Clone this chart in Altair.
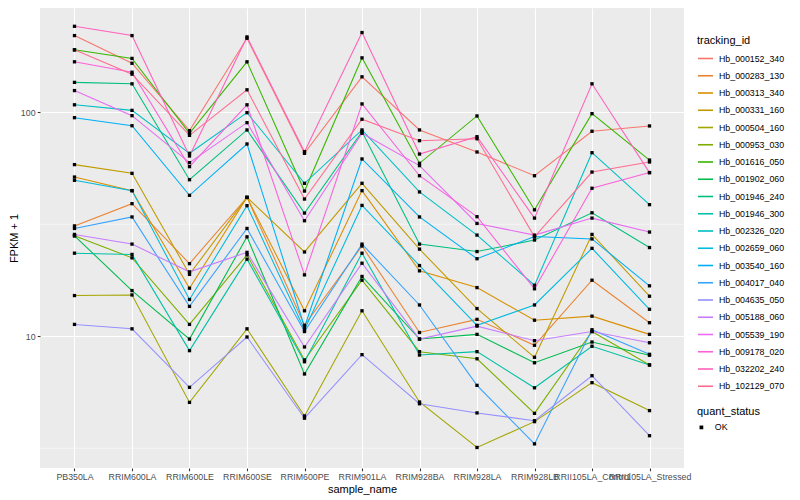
import altair as alt
import pandas as pd

samples = ["PB350LA", "RRIM600LA", "RRIM600LE", "RRIM600SE", "RRIM600PE", "RRIM901LA",
           "RRIM928BA", "RRIM928LA", "RRIM928LB", "RRII105LA_Control", "RRII105LA_Stressed"]

tracking_ids = ["Hb_000152_340", "Hb_000283_130", "Hb_000313_340", "Hb_000331_160",
                "Hb_000504_160", "Hb_000953_030", "Hb_001616_050", "Hb_001902_060",
                "Hb_001946_240", "Hb_001946_300", "Hb_002326_020", "Hb_002659_060",
                "Hb_003540_160", "Hb_004017_040", "Hb_004635_050", "Hb_005188_060",
                "Hb_005539_190", "Hb_009178_020", "Hb_032202_240", "Hb_102129_070"]

colors = ["#F8766D", "#EA8331", "#D89000", "#C09B00", "#A3A500", "#7CAE00", "#39B600",
          "#00BB4E", "#00BF7D", "#00C1A3", "#00BFC4", "#00BAE0", "#00B0F6", "#35A2FF",
          "#9590FF", "#C77CFF", "#E76BF3", "#FA62DB", "#FF62BC", "#FF6C91"]

# FPKM + 1 per sample (same order as samples)
hb_000152_340 = [220, 165.5, 82.8, 214, 65.6, 144, 83.4, 66.5, 52.1, 82.3, 86.9]
hb_000283_130 = [31.1, 39.1, 21.1, 41.7, 11.2, 25.3, 10.4, 11.9, 9.12, 17.8, 11.5]
hb_000313_340 = [51.4, 44.7, 16.4, 41.7, 13.0, 44.7, 19.6, 16.5, 11.8, 12.3, 10.2]
hb_000331_160 = [58.4, 53.4, 18.9, 41.7, 23.8, 48.2, 24.5, 13.3, 8.06, 28.5, 15.1]
hb_000504_160 = [15.2, 15.3, 5.07, 10.8, 4.41, 13.0, 5.09, 3.19, 4.16, 6.21, 4.66]
hb_000953_030 = [28.1, 22.4, 11.3, 23.1, 7.84, 17.8, 8.54, 7.94, 4.53, 10.5, 7.45]
hb_001616_050 = [190, 174, 80.6, 168, 44.5, 175, 59.2, 96.3, 36.7, 98.6, 61.2]
hb_001902_060 = [28.1, 16.0, 9.72, 27.8, 6.79, 18.5, 9.72, 10.2, 7.62, 9.43, 8.23]
hb_001946_240 = [136, 134, 50.0, 83.4, 35.5, 81.9, 25.8, 23.9, 26.9, 35.6, 24.9]
hb_001946_300 = [23.5, 23.2, 8.63, 22.1, 7.70, 23.5, 8.25, 8.54, 5.89, 9.03, 7.45]
hb_002326_020 = [108, 102, 65.6, 99.6, 48.2, 83.4, 44.1, 28.3, 16.9, 66.0, 38.7]
hb_002659_060 = [49.7, 44.7, 14.6, 38.3, 10.7, 38.4, 20.7, 11.2, 13.8, 24.7, 13.2]
hb_003540_160 = [94.6, 87.1, 42.6, 72.2, 11.0, 61.9, 34.1, 22.2, 27.9, 27.2, 16.8]
hb_004017_040 = [30.3, 34.1, 13.6, 30.3, 10.5, 25.8, 13.8, 6.04, 3.31, 10.7, 8.31]
hb_004635_050 = [11.3, 10.8, 5.92, 9.93, 4.31, 8.28, 5.00, 4.55, 4.20, 6.67, 3.60]
hb_005188_060 = [28.5, 25.8, 19.4, 23.7, 8.96, 21.2, 9.72, 11.1, 9.56, 10.5, 9.36]
hb_005539_190 = [125, 96.6, 59.6, 89.9, 32.8, 80.6, 57.8, 31.9, 28.3, 33.7, 29.2]
hb_009178_020 = [168, 151, 57.2, 108, 18.8, 109, 52.1, 34.2, 16.3, 45.8, 53.8]
hb_032202_240 = [242, 220, 63.8, 217, 66.7, 227, 65.1, 77.8, 33.7, 134, 53.8]
hb_102129_070 = [190, 148, 78.9, 126, 41.0, 93.1, 74.7, 76.2, 27.8, 54.1, 60.0]

series = [hb_000152_340, hb_000283_130, hb_000313_340, hb_000331_160, hb_000504_160,
          hb_000953_030, hb_001616_050, hb_001902_060, hb_001946_240, hb_001946_300,
          hb_002326_020, hb_002659_060, hb_003540_160, hb_004017_040, hb_004635_050,
          hb_005188_060, hb_005539_190, hb_009178_020, hb_032202_240, hb_102129_070]

minor_breaks = [3.1623, 31.623]
major_breaks = [10, 100]

rows = []
for tid, vals in zip(tracking_ids, series):
    for s, v in zip(samples, vals):
        rows.append({"tracking_id": tid, "sample_name": s, "fpkm": v, "quant_status": "OK"})
df = pd.DataFrame(rows)

FONT = "Liberation Sans"

x_enc = alt.X("sample_name:N", sort=samples, title="sample_name",
              scale=alt.Scale(type="point", padding=0.6),
              axis=alt.Axis(labelAngle=0, labelOverlap=False, labelBound=False, labelFlush=False,
                            domain=False, tickColor="#333333", tickSize=2.75, tickWidth=1.07,
                            labelColor="#4D4D4D", labelFontSize=8.8, labelPadding=2.2,
                            grid=True, gridColor="white", gridWidth=1.07,
                            titleFontSize=11, titleFontWeight="normal", titleColor="black",
                            titlePadding=2, labelFont=FONT, titleFont=FONT))

y_scale = alt.Scale(type="log", domain=[2.583, 292.1], nice=False)
y_axis = alt.Axis(values=major_breaks, format="d", domain=False, tickColor="#333333",
                  tickSize=2.75, tickWidth=1.07, labelColor="#4D4D4D", labelFontSize=8.8,
                  labelPadding=2.2, grid=True, gridColor="white", gridWidth=1.07,
                  titleFontSize=11, titleFontWeight="normal", titleColor="black",
                  titleX=-21, titleY=230, titleAngle=270, titleAlign="center",
                  titleBaseline="bottom", labelFont=FONT, titleFont=FONT)
y_enc = alt.Y("fpkm:Q", title="FPKM + 1", scale=y_scale, axis=y_axis)

minor = alt.Chart(pd.DataFrame({"fpkm": minor_breaks})).mark_rule(
    color="white", strokeWidth=0.53).encode(y=y_enc)

lines = alt.Chart(df).mark_line(strokeWidth=1.07).encode(
    x=x_enc, y=y_enc,
    color=alt.Color("tracking_id:N", scale=alt.Scale(domain=tracking_ids, range=colors),
                    legend=alt.Legend(title="tracking_id", orient="none", legendX=657, legendY=27,
                                      symbolType="stroke", symbolSize=225, symbolStrokeWidth=1.6,
                                      rowPadding=3.25, titlePadding=4, padding=0,
                                      labelFontSize=8.8, labelFont=FONT, labelColor="black",
                                      titleFontSize=11, titleFont=FONT, titleFontWeight="normal",
                                      titleColor="black", labelOffset=5)),
)

points = alt.Chart(df).mark_point(filled=True, size=11, color="black", opacity=1, shape="square").encode(
    x=x_enc, y=y_enc,
    shape=alt.Shape("quant_status:N", scale=alt.Scale(domain=["OK"], range=["square"]),
                    legend=alt.Legend(title="quant_status", orient="none", legendX=657, legendY=398,
                                      symbolSize=14, symbolFillColor="black", symbolStrokeColor="black",
                                      symbolOpacity=1, rowPadding=2, titlePadding=6, padding=0,
                                      labelFontSize=8.8, labelFont=FONT, labelColor="black",
                                      titleFontSize=11, titleFont=FONT, titleFontWeight="normal",
                                      titleColor="black", labelOffset=9)),
)

chart = alt.layer(minor, lines, points).properties(
    width=644, height=460,
    autosize=alt.AutoSizeParams(type="none"),
    padding={"left": 32, "top": 0, "right": 108, "bottom": 28},
).configure_view(fill="#EBEBEB", strokeWidth=0)

chart.save("out.html", embed_options={"renderer": "svg", "actions": False})
